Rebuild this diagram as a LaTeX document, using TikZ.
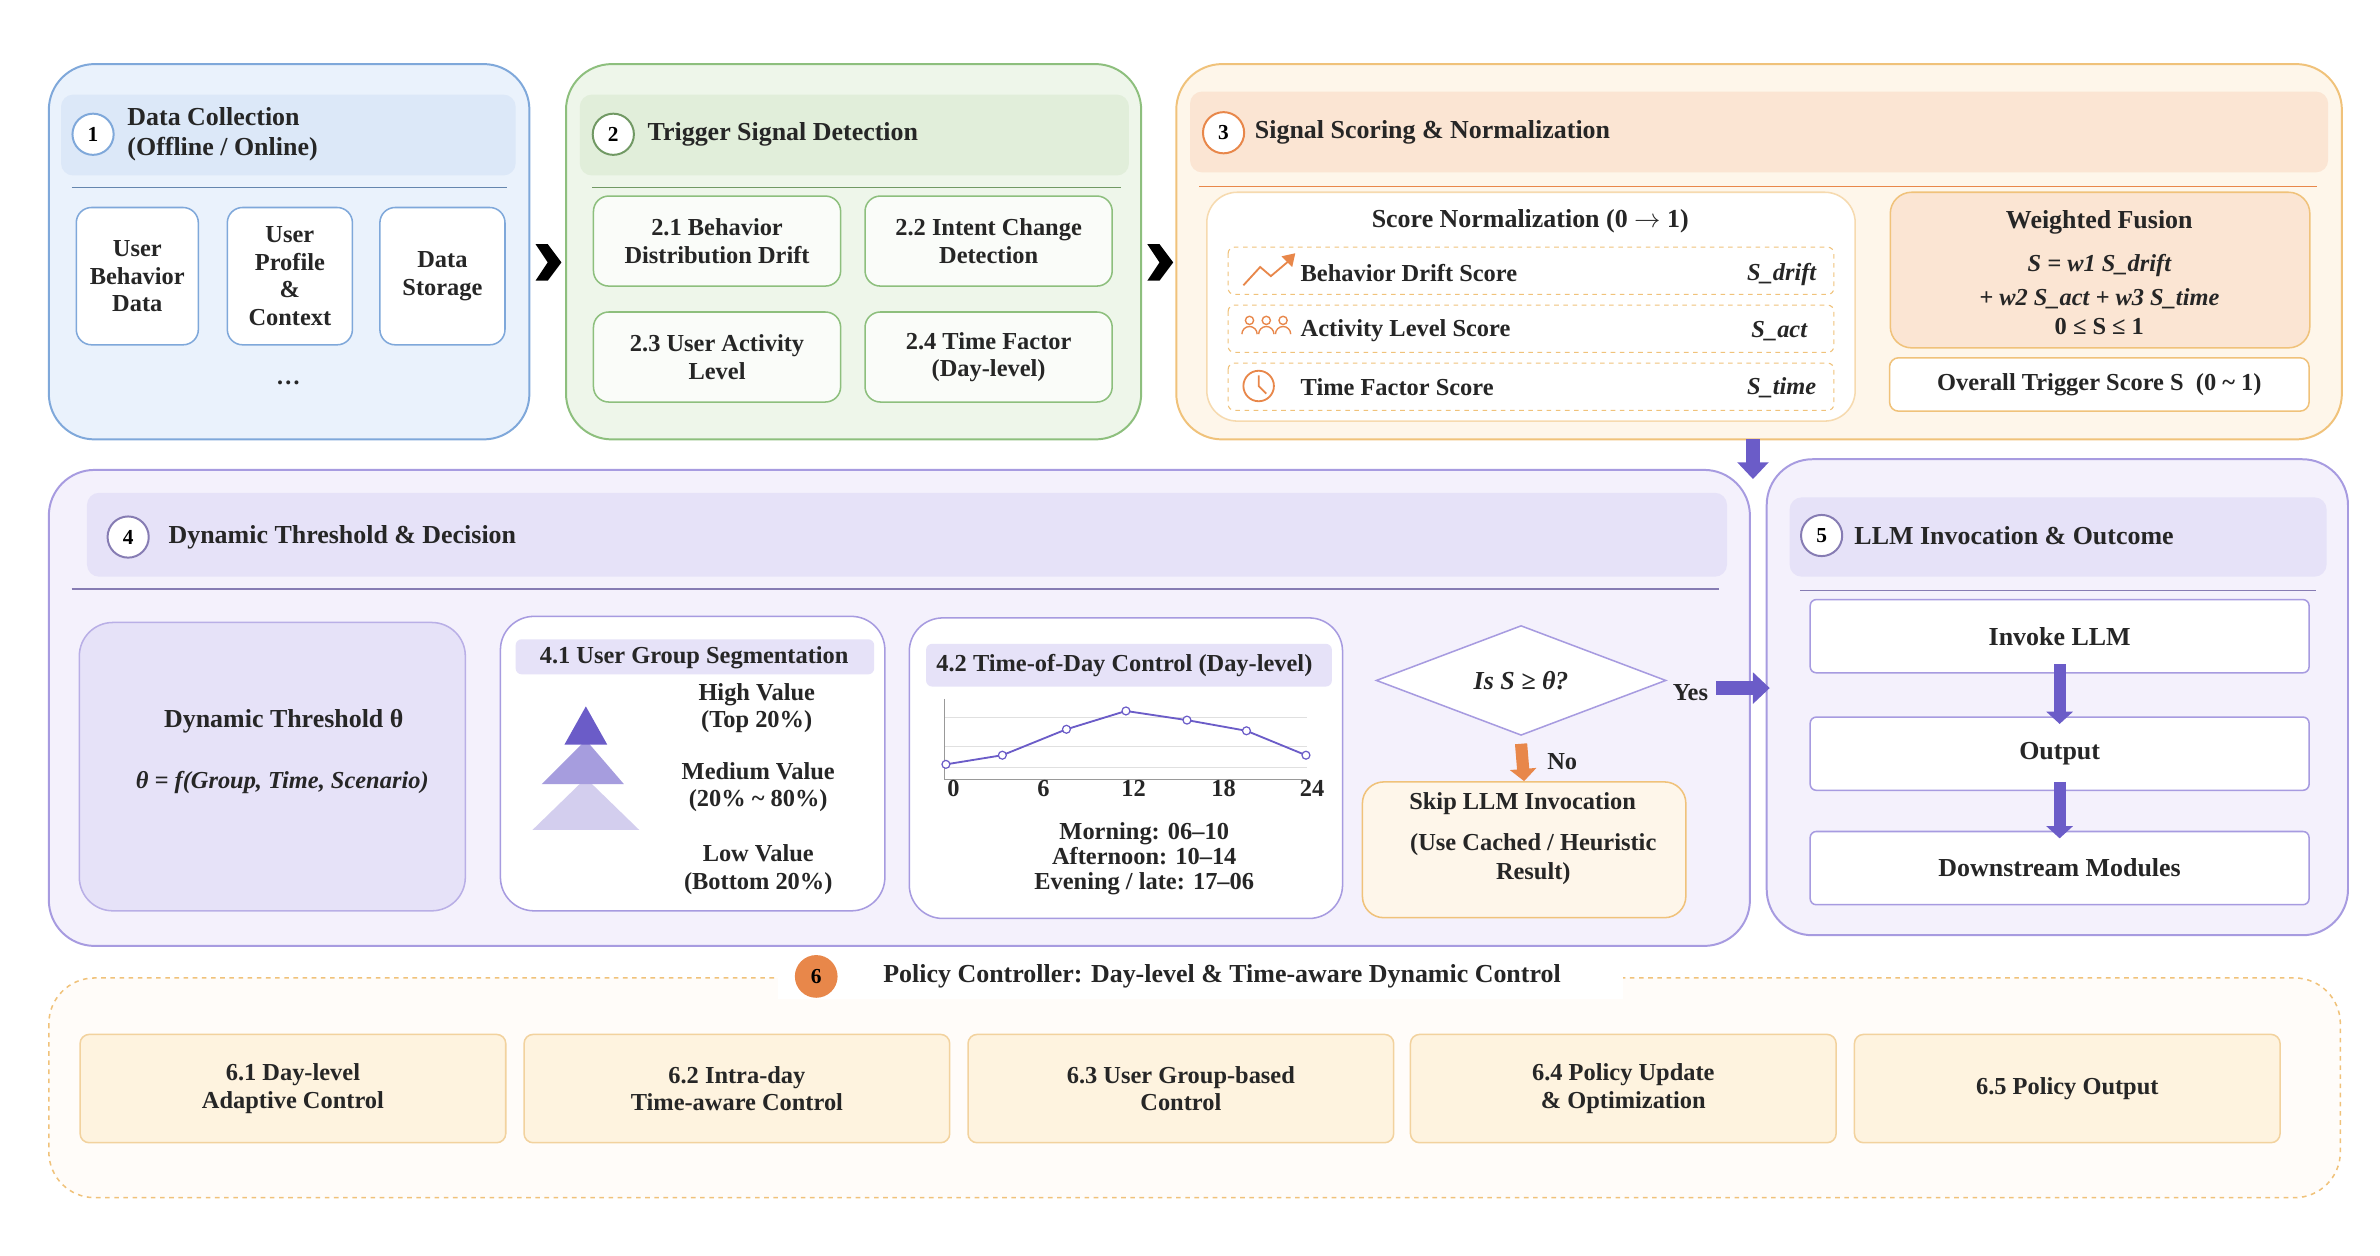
\documentclass[tikz,border=0pt]{standalone}
\usepackage{fontspec}
\setmainfont{Liberation Serif}
\usetikzlibrary{arrows.meta,shapes.geometric}
\definecolor{bA}{HTML}{EAF2FC}\definecolor{bB}{HTML}{7FA8DA}\definecolor{bC}{HTML}{DCE8F8}
\definecolor{gA}{HTML}{EEF6EA}\definecolor{gB}{HTML}{8DBF7D}\definecolor{gC}{HTML}{E1EEDA}
\definecolor{oA}{HTML}{FEF6EA}\definecolor{oB}{HTML}{F0C27A}\definecolor{oC}{HTML}{FBE5D3}\definecolor{oD}{HTML}{E8874A}
\definecolor{pA}{HTML}{F4F1FC}\definecolor{pB}{HTML}{A79BE0}\definecolor{pC}{HTML}{E6E2F8}\definecolor{pD}{HTML}{6B5CC8}
\definecolor{yA}{HTML}{FEF3DF}\definecolor{yB}{HTML}{F2D29E}
\tikzset{
 txt/.style={font=\fontsize{16}{18}\selectfont\bfseries,align=center,text=black!85},
 ttl/.style={font=\fontsize{17}{20}\selectfont\bfseries,align=left,anchor=west,text=black!85},
 num/.style={circle,draw,line width=1.3pt,fill=white,minimum size=27pt,inner sep=0pt,font=\fontsize{14}{16}\selectfont\bfseries},
 big/.style={rounded corners=30pt,line width=1.3pt},
 sub/.style={rounded corners=10pt,line width=1pt},
 parr/.style={line width=9pt,-{Triangle[length=11pt,width=20pt]},pD},
 sarr/.style={line width=8pt,-{Triangle[length=8pt,width=17pt]}},
}
\begin{document}
\begin{tikzpicture}[x=1pt,y=-1pt]
\useasboundingbox (0,0) rectangle (1560,823);
% ---- box 1
\draw[big,fill=bA,draw=bB] (32,42) rectangle (347,288);
\fill[bC,rounded corners=8pt] (40,62) rectangle (338,115);
\node[num,draw=bB] (n1) at (61,88) {1};
\node[ttl] at (80,88) {Data Collection\\(Offline / Online)};
\draw[bB!80!black,line width=0.8pt] (47,123) -- (332,123);
\node[sub,draw=bB,fill=white,txt,minimum width=80pt,minimum height=90pt] (ub) at (90,181) {User\\Behavior\\Data};
\node[sub,draw=bB,fill=white,txt,minimum width=82pt,minimum height=90pt] (up) at (190,181) {User\\Profile\\\&\\Context};
\node[sub,draw=bB,fill=white,txt,minimum width=82pt,minimum height=90pt] (ds) at (290,181) {Data\\Storage};
\node[txt] at (189,251) {\dots};
\fill[black] (351,160) -- (359,160) -- (368,172) -- (359,184) -- (351,184) -- (359,172) -- cycle;
\fill[black] (752,160) -- (760,160) -- (769,172) -- (760,184) -- (752,184) -- (760,172) -- cycle;
% ---- box 2
\draw[big,fill=gA,draw=gB] (371,42) rectangle (748,288);
\fill[gC,rounded corners=8pt] (380,62) rectangle (740,115);
\node[num,draw=gB!80!black] (n2) at (402,88) {2};
\node[ttl] at (421,88) {Trigger Signal Detection};
\draw[gB!80!black,line width=0.8pt] (388,123) -- (735,123);
\foreach \x/\y/\t [count=\i] in {470/158/{2.1 Behavior\\Distribution Drift},648/158/{2.2 Intent Change\\Detection},470/234/{2.3 User Activity\\Level},648/234/{2.4 Time Factor\\(Day-level)}}
 \node[sub,draw=gB,fill=white!70!gA,txt,minimum width=162pt,minimum height=59pt] (t\i) at (\x,\y) {\t};
% ---- box 3
\draw[big,fill=oA,draw=oB] (771,42) rectangle (1535,288);
\fill[oC,rounded corners=8pt] (780,60) rectangle (1526,113);
\node[num,draw=oD] (n3) at (802,87) {3};
\node[ttl] at (819,87) {Signal Scoring \& Normalization};
\draw[oD,line width=0.8pt] (786,122) -- (1519,122);
\draw[rounded corners=20pt,fill=white,draw=oB!60,line width=1pt] (791,126) rectangle (1216,276);
\node[txt,font=\fontsize{17}{20}\selectfont\bfseries] at (1003,145) {Score Normalization (0 $\rightarrow$ 1)};
\foreach \y in {162,200,238} \draw[oB,dashed,rounded corners=4pt,line width=0.7pt] (805,\y) rectangle (1202,\y+31);
\node[ttl,font=\fontsize{16}{18}\selectfont\bfseries] (r1) at (849,179) {Behavior Drift Score};
\node[ttl,font=\fontsize{16}{18}\selectfont\bfseries] (r2) at (849,217) {Activity Level Score};
\node[ttl,font=\fontsize{16}{18}\selectfont\bfseries] (r3) at (849,254) {Time Factor Score};
\node[txt,anchor=east,font=\fontsize{16}{18}\selectfont\bfseries\itshape] at (1194,180) {S\_drift};
\node[txt,anchor=east,font=\fontsize{16}{18}\selectfont\bfseries\itshape] at (1188,217) {S\_act};
\node[txt,anchor=east,font=\fontsize{16}{18}\selectfont\bfseries\itshape] at (1194,254) {S\_time};
\draw[oD,line width=1.2pt] (815,187) -- (826,175) -- (833,181) -- (846,170);
\fill[oD] (849,166) -- (840,168) -- (847,175) -- cycle;
\foreach \x in {819,830,841}{\draw[oD,line width=0.9pt] (\x,210) circle (2.7pt); \draw[oD,line width=0.9pt] (\x-5,219) arc (180:360:5pt and -5pt);}
\draw[oD,line width=1.2pt] (825,253) circle (10pt); \draw[oD,line width=1.2pt] (825,246) -- (825,253) -- (830,258);
\draw[rounded corners=14pt,fill=oC,draw=oB,line width=1pt] (1239,126) rectangle (1514,228);
\node[txt,font=\fontsize{17}{20}\selectfont\bfseries] at (1376,146) {Weighted Fusion};
\node[txt,font=\fontsize{16}{18}\selectfont\bfseries\itshape] at (1376,174) {S = w1 S\_drift};
\node[txt,font=\fontsize{16}{18}\selectfont\bfseries\itshape] at (1376,196) {+ w2 S\_act + w3 S\_time};
\node[txt] at (1376,214) {0 ≤ S ≤ 1};
\node[sub,draw=oB,fill=white,txt,minimum width=275pt,minimum height=35pt,rounded corners=6pt] (ov) at (1376,252) {Overall Trigger Score S \ (0 \textasciitilde{} 1)};
% ---- box 4
\draw[big,fill=pA,draw=pB] (32,308) rectangle (1147,620);
\fill[pC,rounded corners=8pt] (57,323) rectangle (1132,378);
\node[num,draw=pB!80!black] (n4) at (84,352) {4};
\node[ttl] at (107,352) {Dynamic Threshold \& Decision};
\draw[pB!80!black,line width=0.8pt] (47,386) -- (1127,386);
\draw[rounded corners=22pt,fill=pC,draw=pB!80,line width=1pt] (52,408) rectangle (305,597);
\node[txt,font=\fontsize{17}{20}\selectfont\bfseries] (dt) at (186,473) {Dynamic Threshold θ};
\node[txt,font=\fontsize{16}{18}\selectfont\bfseries\itshape] at (185,513) {θ = f(Group, Time, Scenario)};
\draw[rounded corners=22pt,fill=white,draw=pB,line width=1pt] (328,404) rectangle (580,597);
\fill[pC,rounded corners=4pt] (338,419) rectangle (573,442);
\node[txt] at (455,431) {4.1 User Group Segmentation};
\fill[pD!30] (384,510) -- (419,544) -- (349,544) -- cycle;
\fill[pD!60] (384,485) -- (409,514) -- (355,514) -- cycle;
\fill[pD] (384,463) -- (398,488) -- (370,488) -- cycle;
\node[txt] at (496,464) {High Value\\(Top 20\%)};
\node[txt] at (497,516) {Medium Value\\(20\% \textasciitilde{} 80\%)};
\node[txt] at (497,570) {Low Value\\(Bottom 20\%)};
\draw[rounded corners=22pt,fill=white,draw=pB,line width=1pt] (596,405) rectangle (880,602);
\fill[pC,rounded corners=4pt] (607,422) rectangle (873,450);
\node[txt] at (737,436) {4.2 Time-of-Day Control (Day-level)};
\foreach \y in {470,489,503} \draw[black!12] (619,\y) -- (857,\y);
\draw[black!40] (619,458) -- (619,511) -- (857,511);
\draw[pD,line width=1.2pt] (620,501) -- (657,495) -- (699,478) -- (738,466) -- (778,472) -- (817,479) -- (856,495);
\foreach \x/\y in {620/501,657/495,699/478,738/466,778/472,817/479,856/495} \draw[pD,fill=white,line width=0.8pt] (\x,\y) circle (2.6pt);
\foreach \x/\l in {625/0,684/6,743/12,802/18,860/24} \node[txt] at (\x,517) {\l};
\node[txt,font=\fontsize{16}{16.5}\selectfont\bfseries] at (750,563) {Morning: 06–10\\Afternoon: 10–14\\Evening / late: 17–06};
\node[diamond,draw=pB,fill=white,line width=1pt,minimum width=190pt,minimum height=72pt,inner sep=0pt,aspect=2.6] (dec) at (997,446) {};
\node[txt,font=\fontsize{17}{20}\selectfont\bfseries\itshape] at (997,446) {Is S ≥ θ?};
\node[txt] at (1108,454) {Yes};
\node[sub,draw=oB,fill=oA,minimum width=212pt,minimum height=89pt,rounded corners=14pt] (skip) at (999,557) {};
\node[txt] at (998,527) {Skip LLM Invocation};
\node[txt,font=\fontsize{16}{19}\selectfont\bfseries] at (1005,563) {(Use Cached / Heuristic\\Result)};
\draw[sarr,oD] (dec.south) ++(0,5) -- (skip.north);
\node[txt] at (1024,499) {No};
% ---- box 5
\draw[big,fill=pA,draw=pB] (1158,301) rectangle (1539,613);
\fill[pC,rounded corners=8pt] (1173,326) rectangle (1525,378);
\node[num,draw=pB!80!black] (n5) at (1194,351) {5};
\node[ttl] at (1212,351) {LLM Invocation \& Outcome};
\draw[pB!80!black,line width=0.8pt] (1180,387) -- (1518,387);
\node[sub,draw=pB,fill=white,txt,rounded corners=4pt,minimum width=327pt,minimum height=48pt,font=\fontsize{17}{20}\selectfont\bfseries] (inv) at (1350,417) {Invoke LLM};
\node[sub,draw=pB,fill=white,txt,rounded corners=4pt,minimum width=327pt,minimum height=48pt,font=\fontsize{17}{20}\selectfont\bfseries] (out) at (1350,494) {Output};
\node[sub,draw=pB,fill=white,txt,rounded corners=4pt,minimum width=327pt,minimum height=48pt,font=\fontsize{17}{20}\selectfont\bfseries] (dsm) at (1350,569) {Downstream Modules};
\draw[sarr,pD] ([yshift=6pt]inv.south) -- ([yshift=-5pt]out.north);
\draw[sarr,pD] ([yshift=6pt]out.south) -- ([yshift=-5pt]dsm.north);
\coordinate (ya) at (1125,451); \coordinate (yb) at (1160,451);
\draw[parr] (ya) -- (yb);
\coordinate (da) at (1149,288); \coordinate (db) at (1149,314);
\draw[parr] (da) -- (db);
% ---- box 6
\draw[dashed,draw=oB,line width=1pt,rounded corners=30pt,fill=oA!30] (32,641) rectangle (1534,785);
\fill[white] (510,627) rectangle (1064,655);
\node[circle,fill=oD,minimum size=28pt,inner sep=0pt,font=\fontsize{14}{16}\selectfont\bfseries] (n6) at (535,640) {6};
\node[txt,font=\fontsize{17}{20}\selectfont\bfseries] at (801,640) {Policy Controller: Day-level \& Time-aware Dynamic Control};
\foreach \x/\t [count=\i] in {192/{6.1 Day-level\\Adaptive Control},483/{6.2 Intra-day\\Time-aware Control},774/{6.3 User Group-based\\Control},1064/{6.4 Policy Update\\\& Optimization},1355/{6.5 Policy Output}}
 \node[sub,draw=yB,fill=yA,txt,rounded corners=6pt,minimum width=279pt,minimum height=71pt] (p\i) at (\x,713.5) {\t};
\end{tikzpicture}
\end{document}
